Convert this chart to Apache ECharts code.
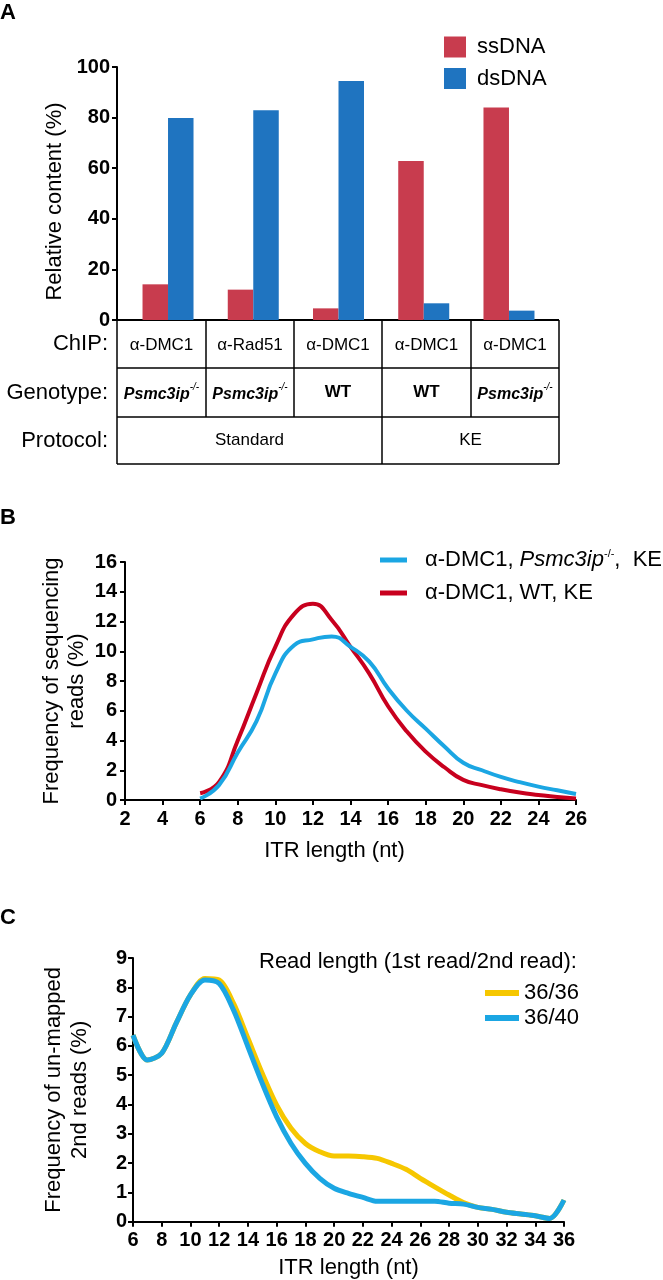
<!DOCTYPE html>
<html>
<head>
<meta charset="utf-8">
<script src="https://cdn.jsdelivr.net/npm/echarts@6/dist/echarts.min.js"></script>
<style>
  html, body { margin: 0; padding: 0; background: #fff; }
  #chart { width: 663px; height: 1280px; }
</style>
</head>
<body>
<div id="chart"></div>
<script>
// ---- panel A data ----
const groups = ['g1', 'g2', 'g3', 'g4', 'g5']
const ssDNA = [14.1, 12.0, 4.6, 62.8, 84.0]
const dsDNA = [79.8, 82.9, 94.5, 6.6, 3.7]
const chipRow = ['α-DMC1', 'α-Rad51', 'α-DMC1', 'α-DMC1', 'α-DMC1']
const genotypeRow = ['Psmc3ip', 'Psmc3ip', 'WT', 'WT', 'Psmc3ip']
const protocolRow = [['Standard', 3], ['KE', 2]]   // label, columns spanned

// ---- panel B data ----
const bX = [6, 7, 8, 9, 10, 11, 12, 13, 14, 15, 16, 17, 18, 19, 20, 21, 22, 23, 24, 25, 26]
const bPsmc = [0.1, 1.0, 3.2, 5.3, 8.5, 10.4, 10.8, 11.0, 10.3, 9.3, 7.5, 6.0, 4.8, 3.6, 2.5, 2.0, 1.55, 1.2, 0.9, 0.65, 0.4]
const bWT = [0.45, 1.2, 4.0, 7.2, 10.3, 12.5, 13.2, 12.1, 10.3, 8.5, 6.3, 4.6, 3.25, 2.2, 1.35, 1.0, 0.72, 0.5, 0.34, 0.2, 0.1]
const bNames = ['α-DMC1, Psmc3ip-/-,  KE', 'α-DMC1, WT, KE']

// ---- panel C data ----
const cX = [6, 7, 8, 9, 10, 11, 12, 13, 14, 15, 16, 17, 18, 19, 20, 21, 22, 23, 24, 25, 26, 27, 28, 29, 30, 31, 32, 33, 34, 35, 36]
const c3636 = [6.37, 5.52, 5.75, 6.77, 7.74, 8.3, 8.25, 7.45, 6.26, 5.06, 3.98, 3.19, 2.67, 2.39, 2.24, 2.24, 2.22, 2.16, 1.99, 1.79, 1.48, 1.19, 0.91, 0.65, 0.49, 0.42, 0.32, 0.26, 0.2, 0.11, 0.74]
const c3640 = [6.37, 5.52, 5.75, 6.77, 7.74, 8.25, 8.13, 7.22, 5.97, 4.72, 3.58, 2.67, 1.99, 1.48, 1.14, 0.97, 0.83, 0.7, 0.7, 0.7, 0.7, 0.7, 0.63, 0.6, 0.49, 0.42, 0.32, 0.26, 0.2, 0.11, 0.74]
const cNames = ['36/36', '36/40']

const FONT = 'Liberation Sans, Arial, Helvetica, sans-serif'
const RED_A = '#c83c4e'
const BLUE_A = '#1f74c0'
const BLUE = '#1ba6e3'
const RED = '#c8001e'
const YELLOW = '#f6c700'

const pairs = (xs, ys) => xs.map((x, i) => [x, ys[i]])

const tickLabel = { fontFamily: FONT, fontSize: 20, fontWeight: 'bold', color: '#000' }
const nameStyle = { fontFamily: FONT, fontSize: 22, color: '#000' }
const axLine = { show: true, lineStyle: { color: '#000', width: 2 } }
const axTick = { show: true, length: 5, lineStyle: { color: '#000', width: 2 } }

// table layout (panel A)
const colEdges = [117, 206, 294, 382, 471, 559]
const rowEdges = [320, 368, 417, 464]
const labelRight = 108

function tableGraphics() {
  const g = []
  const ln = (x1, y1, x2, y2, w) => g.push({ type: 'line', shape: { x1, y1, x2, y2 }, style: { stroke: '#000', lineWidth: w || 1.5 } })
  rowEdges.forEach((y, i) => ln(colEdges[0], y, colEdges[5], y, i === 0 ? 2 : 1.5))
  colEdges.forEach((x, i) => {
    const full = i === 0 || i === 3 || i === 5
    ln(x, rowEdges[0], x, full ? rowEdges[3] : rowEdges[2], 1.5)
  })
  const txt = (text, x, y, extra) => g.push({
    type: 'text',
    style: Object.assign({ text, x, y, align: 'center', verticalAlign: 'middle', fill: '#000', font: '17px ' + FONT }, extra || {})
  })
  const labels = ['ChIP:', 'Genotype:', 'Protocol:']
  labels.forEach((l, r) => txt(l, labelRight, (rowEdges[r] + rowEdges[r + 1]) / 2, { align: 'right', font: '22px ' + FONT }))
  chipRow.forEach((t, c) => txt(t, (colEdges[c] + colEdges[c + 1]) / 2, (rowEdges[0] + rowEdges[1]) / 2 + 1))
  genotypeRow.forEach((t, c) => {
    const cx = (colEdges[c] + colEdges[c + 1]) / 2
    const cy = (rowEdges[1] + rowEdges[2]) / 2
    if (t === 'WT') txt(t, cx, cy, { font: 'bold 17px ' + FONT })
    else txt('{i|' + t + '}{s|-/-}', cx, cy, {
      rich: {
        i: { fontFamily: FONT, fontSize: 16, fontStyle: 'italic', fontWeight: 'bold', lineHeight: 20, verticalAlign: 'bottom' },
        s: { fontFamily: FONT, fontSize: 10, fontStyle: 'italic', lineHeight: 20, verticalAlign: 'top' }
      }
    })
  })
  let c0 = 0
  protocolRow.forEach(([t, span]) => {
    txt(t, (colEdges[c0] + colEdges[c0 + span]) / 2, (rowEdges[2] + rowEdges[3]) / 2, { font: '17px ' + FONT })
    c0 += span
  })
  return g
}

const letter = (t, y) => ({ type: 'text', style: { text: t, x: 0, y, fill: '#000', font: 'bold 22px ' + FONT, verticalAlign: 'top' } })

const bRich = {
  n: { fontFamily: FONT, fontSize: 22, color: '#000' },
  i: { fontFamily: FONT, fontSize: 22, fontStyle: 'italic', color: '#000' },
  s: { fontFamily: FONT, fontSize: 11, color: '#000', verticalAlign: 'top', lineHeight: 24 }
}

const options = {
  animation: false,
  backgroundColor: '#fff',
  grid: [
    { left: 125.4, width: 426.2, top: 67, height: 253 },
    { left: 125, width: 451, top: 562, height: 238 },
    { left: 133, width: 431, top: 958, height: 263.7 }
  ],
  legend: [
    {
      data: ['ssDNA', 'dsDNA'], orient: 'vertical', left: 444, top: 36, padding: 0,
      itemWidth: 22, itemHeight: 21, itemGap: 9.5, icon: 'rect',
      textStyle: { fontFamily: FONT, fontSize: 22, color: '#000', padding: [0, 0, 0, 6] }
    },
    {
      data: bNames, orient: 'vertical', left: 380, top: 548, padding: 0,
      itemWidth: 27, itemHeight: 5, itemGap: 9, icon: 'rect',
      formatter: name => name.indexOf('Psmc') >= 0
        ? '{n|α-DMC1, }{i|Psmc3ip}{s|-/-}{n|,  KE}'
        : '{n|' + name + '}',
      textStyle: { fontFamily: FONT, fontSize: 22, color: '#000', padding: [0, 0, 0, 13], lineHeight: 24, rich: bRich }
    },
    {
      data: cNames, orient: 'vertical', left: 485, top: 982, padding: 0,
      itemWidth: 34, itemHeight: 6, itemGap: 3, icon: 'rect',
      textStyle: { fontFamily: FONT, fontSize: 22, color: '#000', padding: [0, 0, 0, 0] }
    }
  ],
  xAxis: [
    { gridIndex: 0, type: 'category', data: groups, axisLine: { show: false }, axisTick: { show: false }, axisLabel: { show: false } },
    {
      gridIndex: 1, type: 'value', min: 2, max: 26, interval: 2,
      axisLine: axLine, axisTick: axTick, splitLine: { show: false },
      axisLabel: Object.assign({ margin: 9 }, tickLabel),
      name: 'ITR length (nt)', nameLocation: 'middle', nameGap: 40,
      nameTextStyle: Object.assign({ padding: [0, 32, 0, 0] }, nameStyle)
    },
    {
      gridIndex: 2, type: 'value', min: 6, max: 36, interval: 2,
      axisLine: axLine, axisTick: axTick, splitLine: { show: false },
      axisLabel: Object.assign({ margin: 9 }, tickLabel),
      name: 'ITR length (nt)', nameLocation: 'middle', nameGap: 35, nameTextStyle: nameStyle
    }
  ],
  yAxis: [
    {
      gridIndex: 0, type: 'value', min: 0, max: 100, interval: 20, offset: 8.4,
      axisLine: axLine, axisTick: axTick, splitLine: { show: false },
      axisLabel: Object.assign({ margin: 7 }, tickLabel),
      name: 'Relative content (%)', nameLocation: 'middle', nameGap: 51, nameMoveOverlap: false,
      nameTextStyle: Object.assign({ padding: [0, 16, 0, 0] }, nameStyle)
    },
    {
      gridIndex: 1, type: 'value', min: 0, max: 16, interval: 2,
      axisLine: axLine, axisTick: axTick, splitLine: { show: false },
      axisLabel: Object.assign({ margin: 8 }, tickLabel),
      name: 'Frequency of sequencing\nreads (%)', nameLocation: 'middle', nameGap: 36, nameMoveOverlap: false,
      nameTextStyle: Object.assign({ lineHeight: 25 }, nameStyle)
    },
    {
      gridIndex: 2, type: 'value', min: 0, max: 9, interval: 1,
      axisLine: axLine, axisTick: axTick, splitLine: { show: false },
      axisLabel: Object.assign({ margin: 6 }, tickLabel),
      name: 'Frequency of un-mapped\n2nd reads (%)', nameLocation: 'middle', nameGap: 40, nameMoveOverlap: false,
      nameTextStyle: Object.assign({ lineHeight: 26 }, nameStyle)
    }
  ],
  series: [
    { name: 'ssDNA', type: 'bar', xAxisIndex: 0, yAxisIndex: 0, data: ssDNA, barWidth: 25.5, barGap: '0%', itemStyle: { color: RED_A } },
    { name: 'dsDNA', type: 'bar', xAxisIndex: 0, yAxisIndex: 0, data: dsDNA, barWidth: 25.5, barGap: '0%', itemStyle: { color: BLUE_A } },
    {
      name: bNames[1], type: 'line', xAxisIndex: 1, yAxisIndex: 1, data: pairs(bX, bWT),
      smooth: 0.5, showSymbol: false, itemStyle: { color: RED }, lineStyle: { color: RED, width: 4 }
    },
    {
      name: bNames[0], type: 'line', xAxisIndex: 1, yAxisIndex: 1, data: pairs(bX, bPsmc),
      smooth: 0.5, showSymbol: false, itemStyle: { color: BLUE }, lineStyle: { color: BLUE, width: 4 }
    },
    {
      name: cNames[0], type: 'line', xAxisIndex: 2, yAxisIndex: 2, data: pairs(cX, c3636),
      smooth: 0.3, showSymbol: false, itemStyle: { color: YELLOW }, lineStyle: { color: YELLOW, width: 5 }
    },
    {
      name: cNames[1], type: 'line', xAxisIndex: 2, yAxisIndex: 2, data: pairs(cX, c3640),
      smooth: 0.3, showSymbol: false, itemStyle: { color: BLUE }, lineStyle: { color: BLUE, width: 5 }
    }
  ],
  graphic: tableGraphics().concat([
    letter('A', 2),
    letter('B', 507),
    letter('C', 907),
    { type: 'text', style: { text: 'Read length (1st read/2nd read):', x: 259, y: 962, verticalAlign: 'middle', fill: '#000', font: '22px ' + FONT } }
  ])
}

const chart = echarts.init(document.getElementById('chart'))
chart.setOption(options)
</script>
</body>
</html>
